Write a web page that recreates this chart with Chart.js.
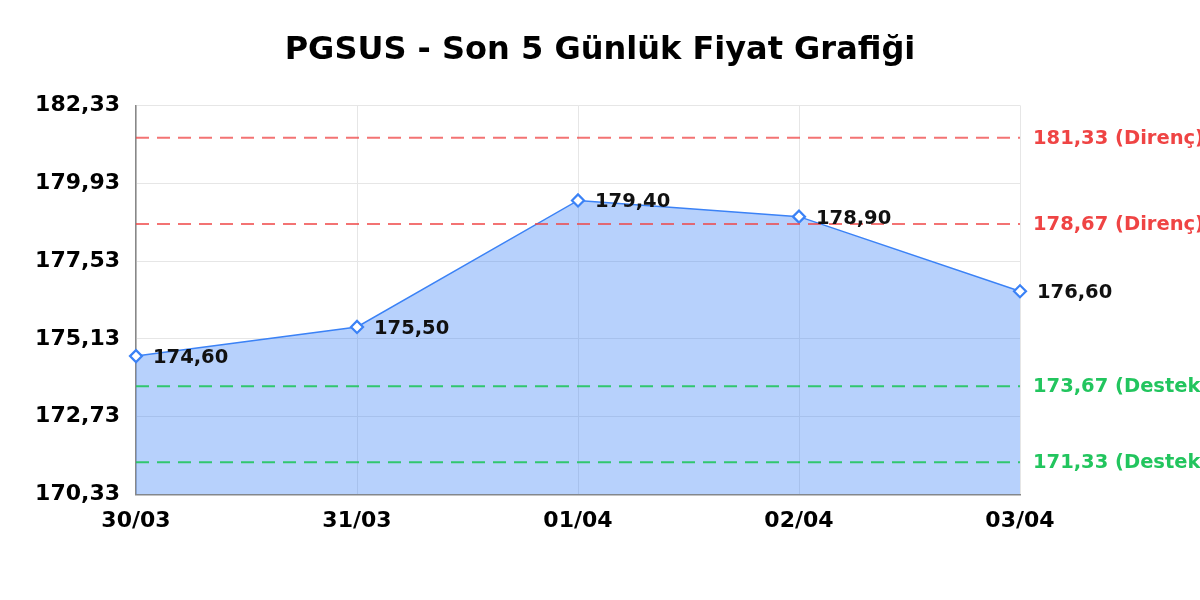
<!DOCTYPE html>
<html>
<head>
<meta charset="utf-8">
<script src="https://cdn.jsdelivr.net/npm/chart.js@4"></script>
<style>
  html, body { margin: 0; padding: 0; background: #fff; }
  #wrap { width: 1200px; height: 600px; }
</style>
</head>
<body>
<div id="wrap"><canvas id="myChart"></canvas></div>
<script>
// data
var days = ['30/03', '31/03', '01/04', '02/04', '03/04'];
var prices = [174.60, 175.50, 179.40, 178.90, 176.60];
var yTicks = [170.33, 172.73, 175.13, 177.53, 179.93, 182.33];
var resistance = [181.33, 178.67];
var support = [173.67, 171.33];

const fmt = v => v.toFixed(2).replace('.', ',');

// dashed support / resistance lines with their labels on the right
const levelLines = {
  id: 'levelLines',
  afterDatasetsDraw(chart) {
    const ctx = chart.ctx;
    const area = chart.chartArea;
    const y = chart.scales.y;
    const levels = resistance.map(v => ({ v: v, color: 'rgba(239, 68, 68, 0.75)' }))
      .concat(support.map(v => ({ v: v, color: 'rgba(34, 197, 94, 0.9)' })));
    ctx.save();
    levels.forEach(l => {
      const py = y.getPixelForValue(l.v);
      ctx.strokeStyle = l.color;
      ctx.lineWidth = 2;
      ctx.setLineDash([13, 8]);
      ctx.beginPath();
      ctx.moveTo(area.left, py);
      ctx.lineTo(area.right, py);
      ctx.stroke();
    });
    ctx.restore();
  },
  afterDraw(chart) {
    const ctx = chart.ctx;
    const area = chart.chartArea;
    const y = chart.scales.y;
    ctx.save();
    ctx.font = 'bold 19.5px "DejaVu Sans"';
    ctx.textBaseline = 'middle';
    ctx.textAlign = 'left';
    resistance.forEach(v => {
      ctx.fillStyle = '#ef4444';
      ctx.fillText(fmt(v) + ' (Direnç)', area.right + 13, y.getPixelForValue(v) + 1);
    });
    support.forEach(v => {
      ctx.fillStyle = '#22c55e';
      ctx.fillText(fmt(v) + ' (Destek)', area.right + 13, y.getPixelForValue(v) + 1);
    });
    // value labels next to the points
    const meta = chart.getDatasetMeta(0);
    ctx.fillStyle = '#111';
    meta.data.forEach((pt, i) => {
      ctx.fillText(fmt(prices[i]), pt.x + 17, pt.y + 2);
    });
    ctx.restore();
  }
};

var ctx = document.getElementById('myChart').getContext('2d');
var chart = new Chart(ctx, {
  type: 'line',
  data: {
    labels: days,
    datasets: [{
      label: 'PGSUS',
      data: prices,
      borderColor: 'rgb(59, 130, 246)',
      backgroundColor: 'rgba(59, 130, 246, 0.37)',
      borderWidth: 1.5,
      fill: 'start',
      tension: 0,
      pointStyle: 'rectRot',
      pointRadius: 6,
      pointBorderWidth: 2.2,
      pointBackgroundColor: '#fff',
      pointBorderColor: 'rgb(59, 130, 246)',
      yAxisID: 'y'
    }]
  },
  options: {
    responsive: true,
    maintainAspectRatio: false,
    animation: false,
    layout: { padding: { left: 0, right: 0, top: 0, bottom: 53 } },
    plugins: {
      legend: { display: false },
      tooltip: { enabled: false },
      title: {
        display: true,
        text: 'PGSUS - Son 5 Günlük Fiyat Grafiği',
        color: '#000',
        font: { family: 'DejaVu Sans', size: 32, weight: 'bold' },
        padding: { top: 31, bottom: 36 }
      }
    },
    scales: {
      x: {
        offset: false,
        grid: { color: '#e6e6e6', drawTicks: false },
        border: { color: '#888', width: 1.5 },
        ticks: {
          color: '#000',
          padding: 13,
          maxRotation: 0,
          font: { family: 'DejaVu Sans', size: 22, weight: 'bold' }
        }
      },
      y: {
        min: yTicks[0],
        max: yTicks[yTicks.length - 1],
        afterBuildTicks: axis => { axis.ticks = yTicks.map(v => ({ value: v })); },
        afterFit: axis => { axis.width = 136; },
        grid: { color: '#e6e6e6', drawTicks: false },
        border: { color: '#888', width: 1.5 },
        ticks: {
          color: '#000',
          padding: 16,
          font: { family: 'DejaVu Sans', size: 22, weight: 'bold' },
          callback: v => fmt(v)
        }
      },
      // empty right axis that only reserves room for the level labels
      yRight: {
        position: 'right',
        afterFit: axis => { axis.width = 180; },
        grid: { display: false, drawTicks: false },
        border: { display: false },
        ticks: { display: false }
      }
    }
  },
  plugins: [levelLines]
});
</script>
</body>
</html>
